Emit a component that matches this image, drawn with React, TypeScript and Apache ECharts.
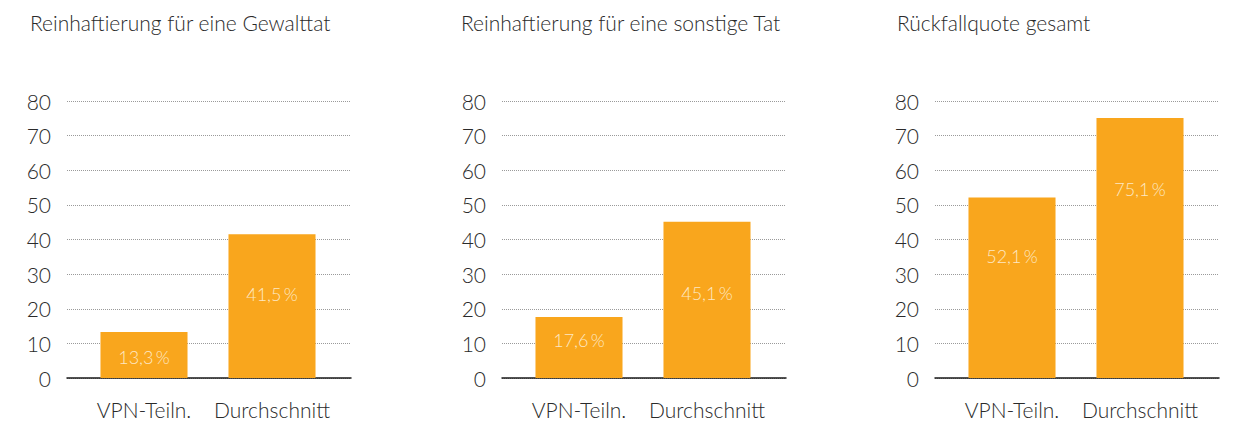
import React, { useEffect, useRef } from "react";
import * as echarts from "echarts";

const titles = [
  "Reinhaftierung für eine Gewalttat",
  "Reinhaftierung für eine sonstige Tat",
  "Rückfallquote gesamt",
];
const categories = ["VPN-Teiln.", "Durchschnitt"];
const gewalttat = [13.3, 41.5];
const sonstigeTat = [17.6, 45.1];
const gesamt = [52.1, 75.1];
const panelValues = [gewalttat, sonstigeTat, gesamt];
const yMin = 0;
const yMax = 80;
const yInterval = 10;

// styling / layout (not data)
const panelLefts = [67, 502, 935];
const titleLefts = [30, 461, 897];
const labelDy = [
  [25, 60],
  [23, 71],
  [58, 71],
];

const FONT = "Lato, 'Open Sans', sans-serif";
const fmt = (v: number) => v.toFixed(1).replace(".", ",") + "\u2009%";

export default function App() {
  const ref = useRef<HTMLDivElement>(null);
  useEffect(() => {
    document.body.style.margin = "0";
    if (!ref.current) return;
    const chart = echarts.init(ref.current, undefined, { renderer: "svg" });
    const grid: any[] = [];
    const xAxis: any[] = [];
    const yAxis: any[] = [];
    const series: any[] = [];
    panelValues.forEach((vals, i) => {
      const L = panelLefts[i];
      grid.push({ left: L, top: 101, width: 284, height: 277 });
      grid.push({ left: L + 13, top: 101, width: 256, height: 277 });
      xAxis.push({
        type: "category",
        gridIndex: 2 * i,
        data: categories,
        axisLine: { show: true, lineStyle: { color: "#1a1a1a", width: 1.5 } },
        axisTick: { show: false },
        axisLabel: { show: false },
      });
      xAxis.push({
        type: "category",
        gridIndex: 2 * i + 1,
        data: categories,
        axisLine: { show: false },
        axisTick: { show: false },
        axisLabel: { interval: 0, fontSize: 21, fontWeight: 300, color: "#2a2a2a", margin: 21, fontFamily: FONT },
      });
      yAxis.push({
        type: "value",
        gridIndex: 2 * i,
        min: yMin,
        max: yMax,
        interval: yInterval,
        axisLine: { show: false },
        axisTick: { show: false },
        axisLabel: { fontSize: 21, fontWeight: 300, color: "#2a2a2a", margin: 16, fontFamily: FONT },
        splitLine: { show: true, lineStyle: { color: "#9a9a9a", type: "dotted", width: 1 } },
      });
      yAxis.push({
        type: "value",
        gridIndex: 2 * i + 1,
        min: yMin,
        max: yMax,
        interval: yInterval,
        show: false,
        splitLine: { show: false },
      });
      series.push({
        type: "bar",
        xAxisIndex: 2 * i + 1,
        yAxisIndex: 2 * i + 1,
        barWidth: "68%",
        itemStyle: { color: "#F9A61D" },
        data: vals.map((v, j) => ({
          value: v,
          label: {
            show: true,
            position: ["50%", labelDy[i][j]],
            align: "center",
            verticalAlign: "middle",
            formatter: () => fmt(v),
            color: "#FDE8C4",
            fontSize: 18,
            fontWeight: 300,
            fontFamily: FONT,
          },
        })),
      });
    });
    chart.setOption({
      animation: false,
      backgroundColor: "#ffffff",
      title: titles.map((t, i) => ({
        text: t,
        left: titleLefts[i],
        top: 12,
        padding: 0,
        textStyle: { fontSize: 21, fontWeight: 300, color: "#2a2a2a", fontFamily: FONT },
      })),
      grid,
      xAxis,
      yAxis,
      series,
    });
    return () => chart.dispose();
  }, []);
  return <div ref={ref} style={{ width: 1240, height: 422 }} />;
}
